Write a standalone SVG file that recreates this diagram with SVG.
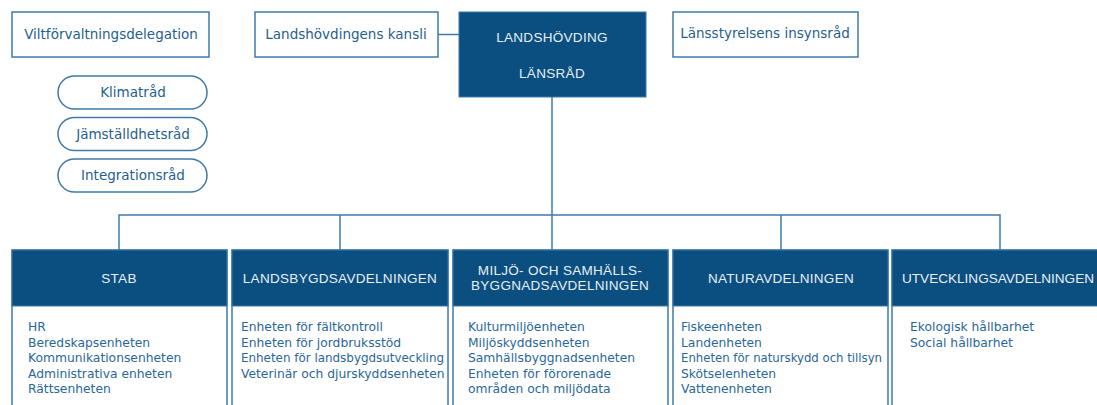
<svg xmlns="http://www.w3.org/2000/svg" width="1097" height="405" viewBox="0 0 1097 405">
<style>
.box{fill:#fff;stroke:#3f7aa8;stroke-width:1.5}
.hdr{fill:#0b4f80;stroke:#3f7aa8;stroke-width:1}
.pill{fill:#fff;stroke:#3f7aa8;stroke-width:1.5}
.t{font-family:"DejaVu Sans","Liberation Sans",sans-serif;font-size:13.5px;fill:#1f5f8f}
.h{font-family:"Liberation Sans",Arial,sans-serif;font-size:13.5px;fill:#e8eef4;text-anchor:middle;letter-spacing:0.3px}
.b{font-family:"DejaVu Sans","Liberation Sans",sans-serif;font-size:12.3px;fill:#2a679a}
.c{fill:none;stroke:#3f7aa8;stroke-width:1.5}
.m{text-anchor:middle}
</style>
<g id="connectors">
<path class="c" d="M438 34.5H459"/>
<path class="c" d="M552 97V215"/>
<path class="c" d="M119 250V215H1000V250"/>
<path class="c" d="M340 215V250"/>
<path class="c" d="M552 215V250"/>
<path class="c" d="M781 215V250"/>
</g>
<g id="viltforvaltningsdelegation">
<rect class="box" x="12" y="12" width="197" height="45"/>
<text class="t m" x="111" y="39">Viltförvaltningsdelegation</text>
</g>
<g id="klimatrad">
<rect class="pill" x="58" y="76" width="149" height="33" rx="16.5"/>
<text class="t m" x="133" y="97">Klimatråd</text>
</g>
<g id="jamstalldhetsrad">
<rect class="pill" x="58" y="117.5" width="149" height="33" rx="16.5"/>
<text class="t m" x="133" y="138.5">Jämställdhetsråd</text>
</g>
<g id="integrationsrad">
<rect class="pill" x="58" y="159" width="149" height="33" rx="16.5"/>
<text class="t m" x="133" y="180">Integrationsråd</text>
</g>
<g id="landshovdingens-kansli">
<rect class="box" x="255" y="12" width="183" height="45"/>
<text class="t m" x="346" y="39">Landshövdingens kansli</text>
</g>
<g id="landshovding">
<rect class="hdr" x="459" y="12" width="187" height="85"/>
<text class="h" x="552" y="42">LANDSHÖVDING</text>
<text class="h" x="552" y="78">LÄNSRÅD</text>
</g>
<g id="lansstyrelsens-insynsrad">
<rect class="box" x="673" y="12" width="185" height="45"/>
<text class="t m" x="765" y="38">Länsstyrelsens insynsråd</text>
</g>
<g id="stab">
<rect class="box" x="12" y="250" width="215" height="170"/>
<rect class="hdr" x="12" y="250" width="215" height="56"/>
<text class="h" x="119" y="283">STAB</text>
<text class="b" x="28"><tspan x="28" y="331">HR</tspan><tspan x="28" y="346.5">Beredskapsenheten</tspan><tspan x="28" y="362">Kommunikationsenheten</tspan><tspan x="28" y="377.5">Administrativa enheten</tspan><tspan x="28" y="393">Rättsenheten</tspan></text>
</g>
<g id="landsbygdsavdelningen">
<rect class="box" x="232" y="250" width="216" height="170"/>
<rect class="hdr" x="232" y="250" width="216" height="56"/>
<text class="h" x="340" y="283">LANDSBYGDSAVDELNINGEN</text>
<text class="b"><tspan x="241" y="331">Enheten för fältkontroll</tspan><tspan x="241" y="346.5">Enheten för jordbruksstöd</tspan><tspan x="241" y="362" textLength="203" lengthAdjust="spacingAndGlyphs">Enheten för landsbygdsutveckling</tspan><tspan x="241" y="377.5">Veterinär och djurskyddsenheten</tspan></text>
</g>
<g id="miljo-samhallsbyggnad">
<rect class="box" x="453" y="250" width="215" height="170"/>
<rect class="hdr" x="453" y="250" width="215" height="56"/>
<text class="h" x="560" y="275">MILJÖ- OCH SAMHÄLLS-</text>
<text class="h" x="560" y="290">BYGGNADSAVDELNINGEN</text>
<text class="b"><tspan x="468" y="331">Kulturmiljöenheten</tspan><tspan x="468" y="346.5">Miljöskyddsenheten</tspan><tspan x="468" y="362">Samhällsbyggnadsenheten</tspan><tspan x="468" y="377.5">Enheten för förorenade</tspan><tspan x="468" y="393">områden och miljödata</tspan></text>
</g>
<g id="naturavdelningen">
<rect class="box" x="673" y="250" width="215" height="170"/>
<rect class="hdr" x="673" y="250" width="215" height="56"/>
<text class="h" x="781" y="283">NATURAVDELNINGEN</text>
<text class="b"><tspan x="681" y="331">Fiskeenheten</tspan><tspan x="681" y="346.5">Landenheten</tspan><tspan x="681" y="362" textLength="201" lengthAdjust="spacingAndGlyphs">Enheten för naturskydd och tillsyn</tspan><tspan x="681" y="377.5">Skötselenheten</tspan><tspan x="681" y="393">Vattenenheten</tspan></text>
</g>
<g id="utvecklingsavdelningen">
<rect class="box" x="892" y="250" width="220" height="170"/>
<rect class="hdr" x="892" y="250" width="220" height="56"/>
<text class="h" x="902" y="283" style="text-anchor:start;letter-spacing:0" textLength="192" lengthAdjust="spacingAndGlyphs">UTVECKLINGSAVDELNINGEN</text>
<text class="b"><tspan x="910" y="331">Ekologisk hållbarhet</tspan><tspan x="910" y="346.5">Social hållbarhet</tspan></text>
</g>
</svg>
